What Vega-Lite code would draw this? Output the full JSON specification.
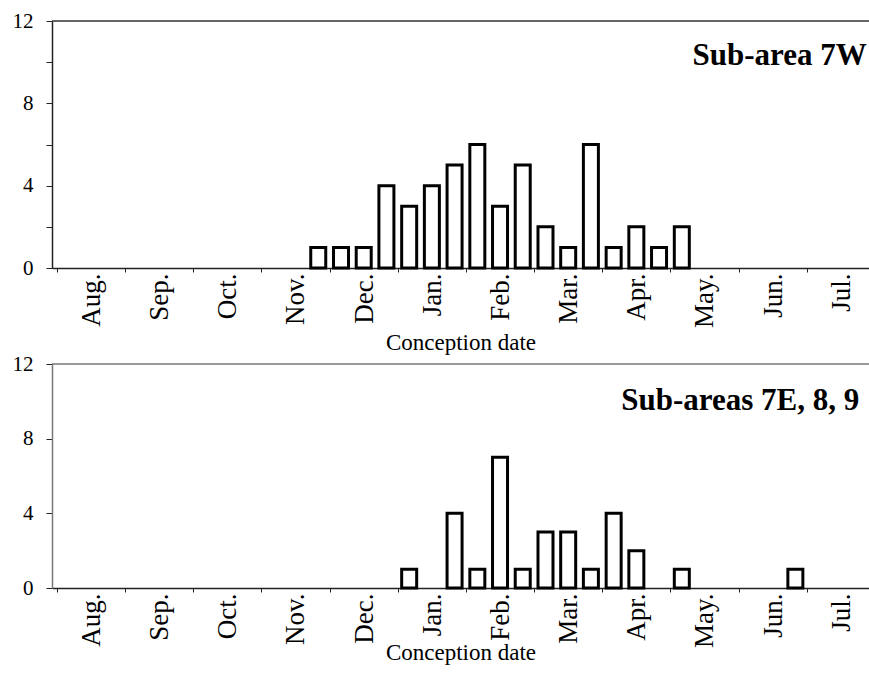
{
  "$schema": "https://vega.github.io/schema/vega-lite/v6.json",
  "padding": {"left": 12, "top": 10, "right": 0, "bottom": 0},
  "background": "white",
  "datasets": {
    "w7": [
      {"period": "Nov 21-30", "t": 3.833, "count": 1},
      {"period": "Dec 1-10", "t": 4.167, "count": 1},
      {"period": "Dec 11-20", "t": 4.5, "count": 1},
      {"period": "Dec 21-31", "t": 4.833, "count": 4},
      {"period": "Jan 1-10", "t": 5.167, "count": 3},
      {"period": "Jan 11-20", "t": 5.5, "count": 4},
      {"period": "Jan 21-31", "t": 5.833, "count": 5},
      {"period": "Feb 1-10", "t": 6.167, "count": 6},
      {"period": "Feb 11-20", "t": 6.5, "count": 3},
      {"period": "Feb 21-28", "t": 6.833, "count": 5},
      {"period": "Mar 1-10", "t": 7.167, "count": 2},
      {"period": "Mar 11-20", "t": 7.5, "count": 1},
      {"period": "Mar 21-31", "t": 7.833, "count": 6},
      {"period": "Apr 1-10", "t": 8.167, "count": 1},
      {"period": "Apr 11-20", "t": 8.5, "count": 2},
      {"period": "Apr 21-30", "t": 8.833, "count": 1},
      {"period": "May 1-10", "t": 9.167, "count": 2}
    ],
    "e789": [
      {"period": "Jan 1-10", "t": 5.167, "count": 1},
      {"period": "Jan 21-31", "t": 5.833, "count": 4},
      {"period": "Feb 1-10", "t": 6.167, "count": 1},
      {"period": "Feb 11-20", "t": 6.5, "count": 7},
      {"period": "Feb 21-28", "t": 6.833, "count": 1},
      {"period": "Mar 1-10", "t": 7.167, "count": 3},
      {"period": "Mar 11-20", "t": 7.5, "count": 3},
      {"period": "Mar 21-31", "t": 7.833, "count": 1},
      {"period": "Apr 1-10", "t": 8.167, "count": 4},
      {"period": "Apr 11-20", "t": 8.5, "count": 2},
      {"period": "May 1-10", "t": 9.167, "count": 1},
      {"period": "Jun 21-30", "t": 10.833, "count": 1}
    ],
    "labels": [
      {"panel": "top", "label": "Sub-area 7W"},
      {"panel": "bottom", "label": "Sub-areas 7E, 8, 9"}
    ]
  },
  "vconcat": [
    {
      "width": 817,
      "height": 247,
      "layer": [
        {
          "data": {"values": [{"level": 12}]},
          "mark": {"type": "rule", "color": "#333", "strokeWidth": 1.5},
          "encoding": {"y": {"field": "level", "type": "quantitative", "scale": {"domain": [0, 12], "nice": false}}}
        },
        {
          "data": {"name": "w7"},
          "mark": {"type": "bar", "width": 15, "fill": "white", "stroke": "black", "strokeWidth": 3},
          "encoding": {
            "x": {"field": "t", "type": "quantitative", "scale": {"domain": [0, 11.84], "nice": false, "zero": false},
              "axis": {"values": [0,1,2,3,4,5,6,7,8,9,10,11], "labelExpr": "['Aug.','Sep.','Oct.','Nov.','Dec.','Jan.','Feb.','Mar.','Apr.','May.','Jun.','Jul.'][datum.value]", "title": "Conception date", "titlePadding": 4}},
            "y": {"field": "count", "type": "quantitative", "scale": {"domain": [0, 12], "nice": false},
              "axis": {"values": [0,2,4,6,8,10,12], "labelExpr": "datum.value % 4 === 0 ? datum.label : ''", "title": null}}
          }
        },
        {
          "data": {"name": "labels"},
          "transform": [{"filter": "datum.panel === 'top'"}],
          "mark": {"type": "text", "align": "right", "baseline": "middle", "font": "Liberation Serif", "fontWeight": "bold", "fontSize": 31, "color": "black"},
          "encoding": {"x": {"datum": 11.88, "type": "quantitative"}, "y": {"datum": 10.3, "type": "quantitative"}, "text": {"field": "label"}}
        }
      ]
    },
    {
      "width": 817,
      "height": 224,
      "layer": [
        {
          "data": {"values": [{"level": 12}]},
          "mark": {"type": "rule", "color": "#777", "strokeWidth": 1.5},
          "encoding": {"y": {"field": "level", "type": "quantitative", "scale": {"domain": [0, 12], "nice": false}}}
        },
        {
          "data": {"name": "e789"},
          "mark": {"type": "bar", "width": 15, "fill": "white", "stroke": "black", "strokeWidth": 3},
          "encoding": {
            "x": {"field": "t", "type": "quantitative", "scale": {"domain": [0, 11.84], "nice": false, "zero": false},
              "axis": {"values": [0,1,2,3,4,5,6,7,8,9,10,11], "labelExpr": "['Aug.','Sep.','Oct.','Nov.','Dec.','Jan.','Feb.','Mar.','Apr.','May.','Jun.','Jul.'][datum.value]", "title": "Conception date", "titlePadding": -6}},
            "y": {"field": "count", "type": "quantitative", "scale": {"domain": [0, 12], "nice": false},
              "axis": {"values": [0,2,4,6,8,10,12], "labelExpr": "datum.value % 4 === 0 ? datum.label : ''", "title": null, "domainColor": "#777"}}
          }
        },
        {
          "data": {"name": "labels"},
          "transform": [{"filter": "datum.panel === 'bottom'"}],
          "mark": {"type": "text", "align": "right", "baseline": "middle", "font": "Liberation Serif", "fontWeight": "bold", "fontSize": 31, "color": "black"},
          "encoding": {"x": {"datum": 11.77, "type": "quantitative"}, "y": {"datum": 10.0, "type": "quantitative"}, "text": {"field": "label"}}
        }
      ]
    }
  ],
  "spacing": 96,
  "bounds": "flush",
  "config": {
    "view": {"stroke": null},
    "axis": {
      "grid": false,
      "domainColor": "#222",
      "domainWidth": 1.5,
      "tickColor": "#222",
      "tickWidth": 1,
      "labelFont": "Liberation Serif",
      "labelColor": "black",
      "titleFont": "Liberation Serif",
      "titleColor": "black",
      "titleFontWeight": "normal"
    },
    "axisX": {
      "tickSize": 4,
      "labelAngle": 270,
      "labelAlign": "right",
      "labelBaseline": "middle",
      "labelOffset": 34.5,
      "labelPadding": 1,
      "labelFontSize": 27,
      "labelOverlap": false,
      "labelFlush": false,
      "labelBound": false,
      "titleFontSize": 23
    },
    "axisY": {
      "tickSize": 6,
      "labelPadding": 13,
      "labelFontSize": 21,
      "labelOverlap": false
    }
  }
}
